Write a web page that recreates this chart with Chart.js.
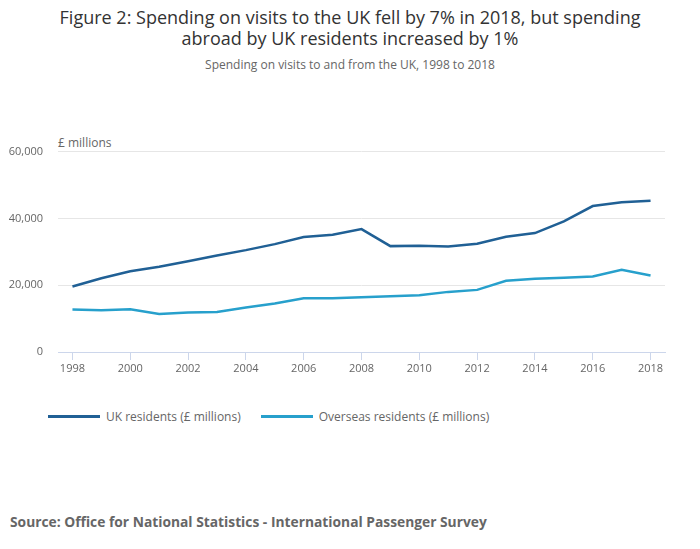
<!DOCTYPE html>
<html>
<head>
<meta charset="UTF-8">
<title>Figure 2</title>
<style>
* {
  margin: 0;
  padding: 0;
  box-sizing: border-box;
}
body {
  font-family: 'Open Sans', sans-serif;
  background-color: #ffffff;
  width: 700px;
  height: 549px;
  position: relative;
  overflow: hidden;
}
.title {
  position: absolute;
  top: 7px;
  left: 0;
  width: 700px;
  text-align: center;
  font-size: 18px;
  line-height: 21px;
  color: #333333;
}
.subtitle {
  position: absolute;
  top: 56px;
  left: 0;
  width: 700px;
  text-align: center;
  font-size: 12px;
  color: #666666;
}
.unit {
  position: absolute;
  top: 134px;
  left: 58px;
  font-size: 12px;
  color: #666666;
}
.chart-box {
  position: absolute;
  top: 130px;
  left: 0;
  width: 700px;
  height: 260px;
}
.legend {
  position: absolute;
  top: 408px;
  left: 48px;
  font-size: 12px;
  color: #666666;
  display: flex;
}
.legend .item {
  display: flex;
  align-items: center;
  margin-right: 20px;
}
.legend .swatch {
  width: 52px;
  height: 3px;
  margin-right: 6px;
}
.source {
  position: absolute;
  top: 512px;
  left: 10px;
  font-size: 13.8px;
  font-weight: bold;
  color: #666666;
}
</style>
<script src="https://cdn.jsdelivr.net/npm/chart.js"></script>
</head>
<body>
  <div class="title">Figure 2: Spending on visits to the UK fell by 7% in 2018, but spending<br>abroad by UK residents increased by 1%</div>
  <div class="subtitle">Spending on visits to and from the UK, 1998 to 2018</div>
  <div class="unit">£ millions</div>
  <div class="chart-box"><canvas id="lineChart"></canvas></div>
  <div class="legend" id="legend"></div>
  <div class="source">Source: Office for National Statistics - International Passenger Survey</div>

<script>
// data (£ millions)
var years = ['1998', '1999', '2000', '2001', '2002', '2003', '2004', '2005', '2006', '2007', '2008',
             '2009', '2010', '2011', '2012', '2013', '2014', '2015', '2016', '2017', '2018'];
var ukResidents = [19600, 22100, 24200, 25500, 27200, 28900, 30500, 32300, 34400, 35100, 36800,
                   31700, 31800, 31600, 32400, 34500, 35600, 39100, 43700, 44800, 45300];
var overseasResidents = [12700, 12500, 12800, 11400, 11800, 12000, 13300, 14500, 16100, 16100, 16400,
                         16700, 17000, 18000, 18600, 21300, 21900, 22200, 22600, 24600, 22900];
var yTicks = [0, 20000, 40000, 60000];

var seriesNames = ['UK residents (£ millions)', 'Overseas residents (£ millions)'];
var seriesColors = ['#206095', '#27a0cc'];

document.addEventListener("DOMContentLoaded", function() {
    var ctx = document.getElementById('lineChart').getContext('2d');

    var lineChart = new Chart(ctx, {
        type: 'line',
        data: {
            labels: years,
            datasets: [{
                label: seriesNames[0],
                data: ukResidents,
                borderColor: seriesColors[0],
                backgroundColor: seriesColors[0],
                borderWidth: 2.5,
                pointRadius: 0,
                tension: 0,
                fill: false
            }, {
                label: seriesNames[1],
                data: overseasResidents,
                borderColor: seriesColors[1],
                backgroundColor: seriesColors[1],
                borderWidth: 2.5,
                pointRadius: 0,
                tension: 0,
                fill: false
            }]
        },
        options: {
            responsive: true,
            maintainAspectRatio: false,
            animation: false,
            layout: {
                padding: { top: 19, right: 35, left: 0, bottom: 0 }
            },
            plugins: {
                legend: { display: false },
                tooltip: { enabled: false }
            },
            scales: {
                x: {
                    offset: true,
                    afterFit: function(s) { s.height = 38; },
                    grid: {
                        offset: false,
                        drawOnChartArea: false,
                        drawTicks: true,
                        tickLength: 8,
                        color: function(c) { return c.index % 2 === 0 ? '#ccd6eb' : 'rgba(0,0,0,0)'; }
                    },
                    border: { display: true, color: '#ccd6eb', width: 1 },
                    ticks: {
                        autoSkip: false,
                        maxRotation: 0,
                        padding: 2,
                        color: '#666666',
                        font: { family: 'Open Sans', size: 11 },
                        callback: function(v, i) { return i % 2 === 0 ? years[i] : ''; }
                    }
                },
                y: {
                    min: yTicks[0],
                    max: yTicks[yTicks.length - 1],
                    afterFit: function(s) { s.width = 58; },
                    afterBuildTicks: function(s) {
                        s.ticks = yTicks.map(function(v) { return { value: v }; });
                    },
                    grid: {
                        color: function(c) { return c.tick && c.tick.value === 0 ? 'rgba(0,0,0,0)' : '#e6e6e6'; },
                        drawTicks: false
                    },
                    border: { display: false },
                    ticks: {
                        padding: 15,
                        color: '#666666',
                        font: { family: 'Open Sans', size: 11 },
                        callback: function(v) { return v.toLocaleString('en-GB'); }
                    }
                }
            }
        }
    });

    var legend = document.getElementById('legend');
    lineChart.data.datasets.forEach(function(ds) {
        var item = document.createElement('div');
        item.className = 'item';
        var sw = document.createElement('span');
        sw.className = 'swatch';
        sw.style.backgroundColor = ds.borderColor;
        var txt = document.createElement('span');
        txt.textContent = ds.label;
        item.appendChild(sw);
        item.appendChild(txt);
        legend.appendChild(item);
    });
});
</script>
</body>
</html>
